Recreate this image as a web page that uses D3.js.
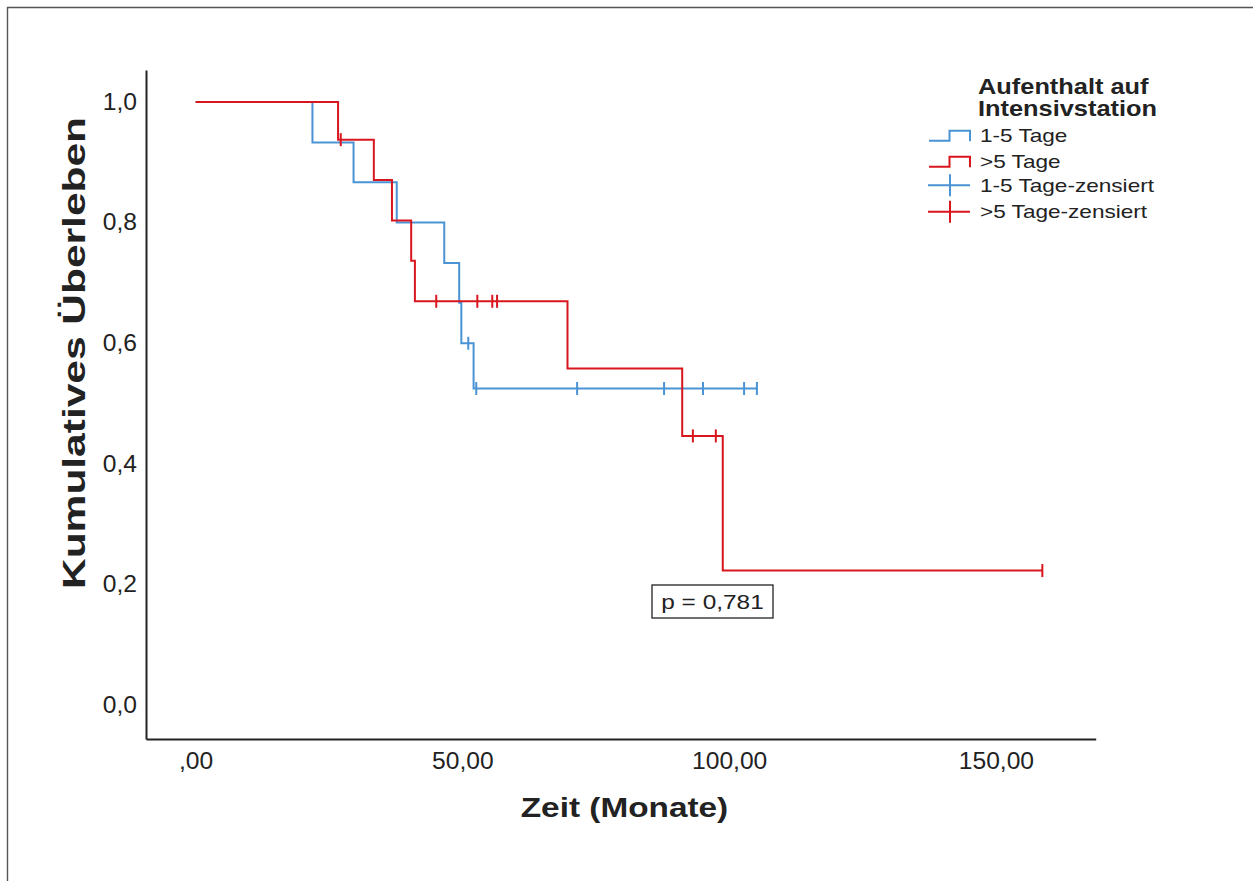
<!DOCTYPE html>
<html>
<head>
<meta charset="utf-8">
<script src="https://cdn.jsdelivr.net/npm/d3@7"></script>
<style>
  html, body { margin: 0; padding: 0; background: #fff; }
  svg { display: block; font-family: "Liberation Sans", Arial, sans-serif; }
</style>
</head>
<body>
<svg id="chart" width="1253" height="881"></svg>
<script>
// ---------------- DATA ----------------
const groupNames = ["1-5 Tage", ">5 Tage"];
const censorNames = ["1-5 Tage-zensiert", ">5 Tage-zensiert"];
const legendTitle = ["Aufenthalt auf", "Intensivstation"];

// Kaplan-Meier step times (months) and survival after each step
const blueTimes = [0, 21.9, 29.6, 37.7, 46.6, 49.4, 49.8, 52.1];
const blueSurv  = [1.0, 0.933, 0.867, 0.800, 0.733, 0.667, 0.600, 0.525];
const blueEnd = 105.3;
const blueCensored = [51.1, 52.6, 71.5, 87.8, 95.1, 102.8, 105.2];

const redTimes = [0, 26.7, 33.4, 36.8, 40.4, 41.1, 69.7, 91.2, 98.8];
const redSurv  = [1.0, 0.9375, 0.8705, 0.8036, 0.7366, 0.6696, 0.558, 0.4464, 0.2232];
const redEnd = 158.7;
const redCensored = [27.2, 45.1, 52.8, 55.6, 56.5, 93.2, 97.5, 158.7];

const xTicks = [0, 50, 100, 150];
const yTicks = [0, 0.2, 0.4, 0.6, 0.8, 1.0];
const xTitle = "Zeit (Monate)";
const yTitle = "Kumulatives Überleben";
const pText = "p = 0,781";

// ---------------- STYLE ----------------
const BLUE = "#4a93d4", RED = "#d9161e", INK = "#222";
const svg = d3.select("#chart");

function stretch(sel, f) {
  sel.each(function () {
    const n = this.getComputedTextLength();
    this.setAttribute("textLength", n * f);
    this.setAttribute("lengthAdjust", "spacingAndGlyphs");
  });
}

svg.append("rect").attr("width", 1253).attr("height", 881).attr("fill", "#fff");
// outer frame (only top/left visible)
svg.append("path").attr("d", "M7.5,881V7.5H1253")
  .attr("fill", "none").attr("stroke", "#555").attr("stroke-width", 1.4);

const x = d3.scaleLinear().domain([-9.3, 168.7]).range([146, 1095.7]);
const y = d3.scaleLinear().domain([-0.056, 1.053]).range([739, 70]);

// axes
const fmtX = d => d === 0 ? ",00" : d.toFixed(2).replace(".", ",");
const fmtY = d => d.toFixed(1).replace(".", ",");

const gx = svg.append("g").attr("transform", `translate(0,${y.range()[0]})`)
  .call(d3.axisBottom(x).tickValues(xTicks).tickFormat(fmtX).tickSize(0).tickPadding(13.8));
const gy = svg.append("g").attr("transform", `translate(${x.range()[0]},0)`)
  .call(d3.axisLeft(y).tickValues(yTicks).tickFormat(fmtY).tickSize(0).tickPadding(9));
[gx, gy].forEach(g => {
  g.select(".domain").attr("stroke", INK).attr("stroke-width", 2);
  g.selectAll("text").attr("font-size", 23).attr("fill", INK)
    .attr("font-family", '"Liberation Sans", Arial, sans-serif');
  stretch(g.selectAll("text"), 1.07);
});

// axis titles
const xt = svg.append("text").attr("x", 624.5).attr("y", 817).attr("text-anchor", "middle")
  .attr("font-size", 28.5).attr("font-weight", "bold").attr("fill", INK).text(xTitle);
stretch(xt, 1.17);
const yt = svg.append("text").attr("transform", "translate(85,353) rotate(-90)")
  .attr("text-anchor", "middle").attr("font-size", 31).attr("font-weight", "bold")
  .attr("fill", INK).text(yTitle);
stretch(yt, 1.37);

// curves
function stepPoints(times, surv, end) {
  const pts = times.map((t, i) => [t, surv[i]]);
  pts.push([end, surv[surv.length - 1]]);
  return pts;
}
function survAt(times, surv, t) {
  let s = surv[0];
  times.forEach((tt, i) => { if (tt <= t) s = surv[i]; });
  return s;
}
const line = d3.line().x(d => x(d[0])).y(d => y(d[1])).curve(d3.curveStepAfter);

const series = [
  { times: blueTimes, surv: blueSurv, end: blueEnd, cens: blueCensored, color: BLUE },
  { times: redTimes, surv: redSurv, end: redEnd, cens: redCensored, color: RED }
];
series.forEach(s => {
  svg.append("path").datum(stepPoints(s.times, s.surv, s.end))
    .attr("d", line).attr("fill", "none").attr("stroke", s.color).attr("stroke-width", 2);
  svg.append("g").selectAll("line").data(s.cens).join("line")
    .attr("x1", d => x(d)).attr("x2", d => x(d))
    .attr("y1", d => y(survAt(s.times, s.surv, d)) - 6.5)
    .attr("y2", d => y(survAt(s.times, s.surv, d)) + 6.5)
    .attr("stroke", s.color).attr("stroke-width", 2);
});

// p-value box
svg.append("rect").attr("x", 652).attr("y", 585).attr("width", 121).attr("height", 33)
  .attr("fill", "#fff").attr("stroke", INK).attr("stroke-width", 1.3);
const pt = svg.append("text").attr("x", 712.5).attr("y", 609).attr("text-anchor", "middle")
  .attr("font-size", 20).attr("fill", INK).text(pText);
stretch(pt, 1.22);

// legend
const lg = svg.append("g");
legendTitle.forEach((t, i) => {
  const tt = lg.append("text").attr("x", 978).attr("y", 94 + i * 22.3)
    .attr("font-size", 21.5).attr("font-weight", "bold").attr("fill", INK).text(t);
  stretch(tt, 1.18);
});
const legendRows = [
  { label: groupNames[0], color: BLUE, kind: "step" },
  { label: groupNames[1], color: RED, kind: "step" },
  { label: censorNames[0], color: BLUE, kind: "cross" },
  { label: censorNames[1], color: RED, kind: "cross" }
];
const rowBase = [141.7, 167.7, 191.7, 218.3];
legendRows.forEach((r, i) => {
  const b = rowBase[i];
  if (r.kind === "step") {
    lg.append("path").attr("d", `M929,${b - 1}H949.5V${b - 11}H970V${b - 0.5}`)
      .attr("fill", "none").attr("stroke", r.color).attr("stroke-width", 2);
  } else {
    const c = b - 6.5;
    lg.append("path").attr("d", `M928,${c}H970M950,${c - 11}V${c + 11}`)
      .attr("fill", "none").attr("stroke", r.color).attr("stroke-width", 2);
  }
  const tt = lg.append("text").attr("x", 980).attr("y", b)
    .attr("font-size", 18.5).attr("fill", INK).text(r.label);
  stretch(tt, 1.22);
});
</script>
</body>
</html>
